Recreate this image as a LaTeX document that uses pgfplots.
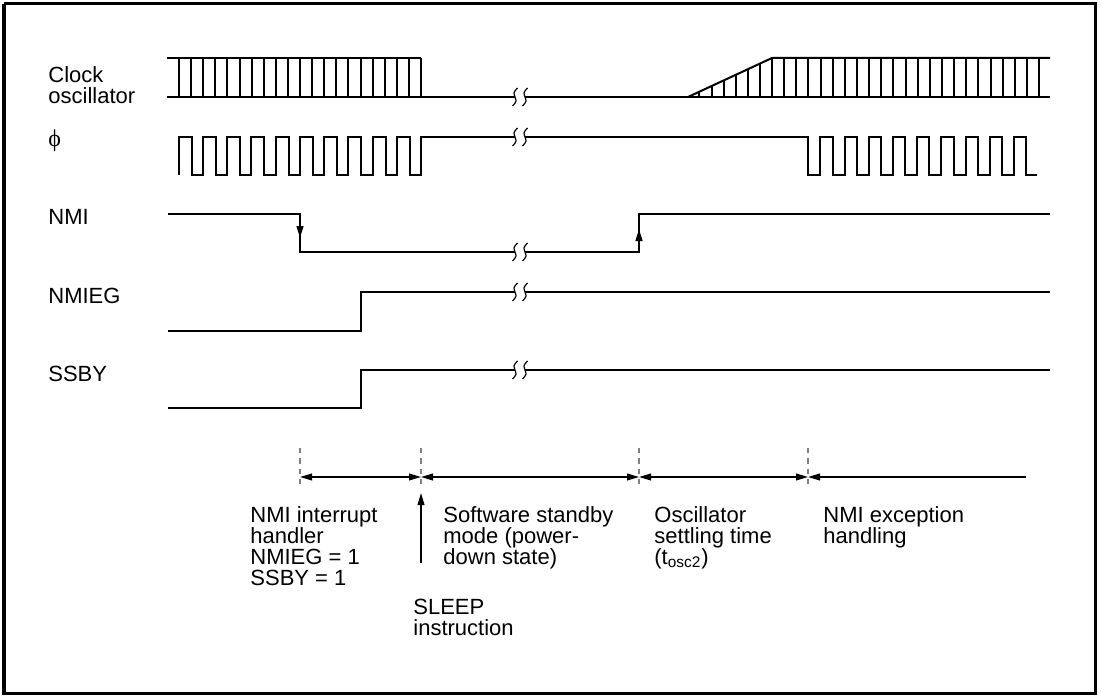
\documentclass[border=0pt]{standalone}
\usepackage{pgfplots}
\pgfplotsset{compat=1.18}
\usetikzlibrary{arrows.meta}
\usepackage{fontspec}
\setmainfont{Liberation Sans}
\newfontfamily\phifont{Liberation Serif}
\pgfplotsset{
  sig/.style={black, line width=1pt, line join=miter, mark=none},
  brk/.style={black, line width=0.6pt, smooth, mark=none},
  dash/.style={gray, line width=0.7pt, dash pattern=on 2.6pt off 2.6pt, mark=none},
  dim/.style={black, line width=0.7pt, mark=none},
}
\tikzset{lab/.style={anchor=base west, inner sep=0pt, font=\fontsize{11}{13}\selectfont}}
\newcommand{\tip}{Triangle[length=6pt,width=3.4pt]}
\begin{document}
\begin{tikzpicture}
\begin{axis}[hide axis, scale only axis, width=550.5pt, height=347.5pt,
  xmin=0, xmax=1101, ymin=0, ymax=695, y dir=reverse, clip=false,
  unbounded coords=jump]
% bounding box
\addplot[draw=none] coordinates {(0,0) (1101,695)};
% frame
\addplot[black, line width=1.5pt, line join=miter] coordinates {(4,4) (1095,4) (1095,693) (4,693) (4,4)};

% ---- Clock oscillator ----
\addplot[sig] coordinates {(167,58) (421,58)};
\addplot[sig] coordinates {(167,97) (515,97)};
\addplot[sig] coordinates {(525,97) (1050,97)};
\addplot[sig] coordinates {(688,97) (772,58) (1050,58)};
\addplot[sig] coordinates {
(179,58)(179,97)(179,nan)
(191.1,58)(191.1,97)(191.1,nan)
(203.2,58)(203.2,97)(203.2,nan)
(215.3,58)(215.3,97)(215.3,nan)
(227.4,58)(227.4,97)(227.4,nan)
(239.5,58)(239.5,97)(239.5,nan)
(251.6,58)(251.6,97)(251.6,nan)
(263.7,58)(263.7,97)(263.7,nan)
(275.8,58)(275.8,97)(275.8,nan)
(287.9,58)(287.9,97)(287.9,nan)
(300,58)(300,97)(300,nan)
(312.1,58)(312.1,97)(312.1,nan)
(324.2,58)(324.2,97)(324.2,nan)
(336.3,58)(336.3,97)(336.3,nan)
(348.4,58)(348.4,97)(348.4,nan)
(360.5,58)(360.5,97)(360.5,nan)
(372.6,58)(372.6,97)(372.6,nan)
(384.7,58)(384.7,97)(384.7,nan)
(396.8,58)(396.8,97)(396.8,nan)
(408.9,58)(408.9,97)(408.9,nan)
(421,58)(421,97)(421,nan)
(699.4,91.7)(699.4,97)(699.4,nan)
(711.5,86.1)(711.5,97)(711.5,nan)
(723.6,80.5)(723.6,97)(723.6,nan)
(735.7,74.9)(735.7,97)(735.7,nan)
(747.8,69.2)(747.8,97)(747.8,nan)
(759.9,63.6)(759.9,97)(759.9,nan)
(772,58)(772,97)(772,nan)
(784.1,58)(784.1,97)(784.1,nan)
(796.3,58)(796.3,97)(796.3,nan)
(808.4,58)(808.4,97)(808.4,nan)
(820.5,58)(820.5,97)(820.5,nan)
(832.7,58)(832.7,97)(832.7,nan)
(844.8,58)(844.8,97)(844.8,nan)
(857.0,58)(857.0,97)(857.0,nan)
(869.1,58)(869.1,97)(869.1,nan)
(881.2,58)(881.2,97)(881.2,nan)
(893.4,58)(893.4,97)(893.4,nan)
(905.5,58)(905.5,97)(905.5,nan)
(917.6,58)(917.6,97)(917.6,nan)
(929.8,58)(929.8,97)(929.8,nan)
(941.9,58)(941.9,97)(941.9,nan)
(954.1,58)(954.1,97)(954.1,nan)
(966.2,58)(966.2,97)(966.2,nan)
(978.3,58)(978.3,97)(978.3,nan)
(990.5,58)(990.5,97)(990.5,nan)
(1002.6,58)(1002.6,97)(1002.6,nan)
(1014.7,58)(1014.7,97)(1014.7,nan)
(1026.9,58)(1026.9,97)(1026.9,nan)
(1039,58)(1039,97)};
\addplot[brk] coordinates {(517.5,88)(514,93)(516,101)(512.5,106)};
\addplot[brk] coordinates {(527.5,88)(524,93)(526,101)(522.5,106)};

% ---- phi ----
\addplot[sig] coordinates {(178.5,175)(178.5,137)(191.5,137)(191.5,175)(202.75,175)(202.75,137)(215.75,137)(215.75,175)(227,175)(227,137)(240,137)(240,175)(251.25,175)(251.25,137)(264.25,137)(264.25,175)(275.5,175)(275.5,137)(288.5,137)(288.5,175)(299.75,175)(299.75,137)(312.75,137)(312.75,175)(324,175)(324,137)(337,137)(337,175)(348.25,175)(348.25,137)(361.25,137)(361.25,175)(372.5,175)(372.5,137)(385.5,137)(385.5,175)(396.75,175)(396.75,137)(409.75,137)(409.75,175)(421,175)(421,137)(515,137)};
\addplot[sig] coordinates {(525,137)(808.3,137)(808.3,175)(820.3,175)(820.3,137)(832.5,137)(832.5,175)(844.5,175)(844.5,137)(856.7,137)(856.7,175)(868.7,175)(868.7,137)(880.9,137)(880.9,175)(892.9,175)(892.9,137)(905.1,137)(905.1,175)(917.1,175)(917.1,137)(929.3,137)(929.3,175)(941.3,175)(941.3,137)(953.5,137)(953.5,175)(965.5,175)(965.5,137)(977.7,137)(977.7,175)(989.7,175)(989.7,137)(1001.9,137)(1001.9,175)(1013.9,175)(1013.9,137)(1026.1,137)(1026.1,175)(1037,175)};
\addplot[brk] coordinates {(517.5,128)(514,133)(516,141)(512.5,146)};
\addplot[brk] coordinates {(527.5,128)(524,133)(526,141)(522.5,146)};

% ---- NMI ----
\addplot[sig] coordinates {(168,214)(300,214)(300,252)(515,252)};
\addplot[sig] coordinates {(525,252)(639,252)(639,214)(1050,214)};
\addplot[sig, -{\tip}] coordinates {(300,214)(300,238)};
\addplot[sig, -{\tip}] coordinates {(639,252)(639,229)};
\addplot[brk] coordinates {(517.5,243)(514,248)(516,256)(512.5,261)};
\addplot[brk] coordinates {(527.5,243)(524,248)(526,256)(522.5,261)};

% ---- NMIEG ----
\addplot[sig] coordinates {(168,331)(361,331)(361,292)(515,292)};
\addplot[sig] coordinates {(525,292)(1050,292)};
\addplot[brk] coordinates {(517.5,283)(514,288)(516,296)(512.5,301)};
\addplot[brk] coordinates {(527.5,283)(524,288)(526,296)(522.5,301)};

% ---- SSBY ----
\addplot[sig] coordinates {(168,408)(361,408)(361,370)(515,370)};
\addplot[sig] coordinates {(525,370)(1050,370)};
\addplot[brk] coordinates {(517.5,361)(514,366)(516,374)(512.5,379)};
\addplot[brk] coordinates {(527.5,361)(524,366)(526,374)(522.5,379)};

% ---- dimension lines ----
\addplot[dash] coordinates {(300,448)(300,487)};
\addplot[dash] coordinates {(421,448)(421,487)};
\addplot[dash] coordinates {(639,448)(639,487)};
\addplot[dash] coordinates {(808,448)(808,487)};
\addplot[dim, {\tip}-{\tip}] coordinates {(300,477)(421,477)};
\addplot[dim, {\tip}-{\tip}] coordinates {(421,477)(639,477)};
\addplot[dim, {\tip}-{\tip}] coordinates {(639,477)(808,477)};
\addplot[dim, {\tip}-] coordinates {(808,477)(1026,477)};
\addplot[dim, -{\tip}] coordinates {(421,563)(421,493)};

% ---- labels ----
\node[lab] at (axis cs:48,83) {Clock};
\node[lab] at (axis cs:48,104) {oscillator};
\node[lab, font=\fontsize{12}{13}\phifont] at (axis cs:48,147) {ϕ};
\node[lab] at (axis cs:48,225) {NMI};
\node[lab] at (axis cs:48,303) {NMIEG};
\node[lab] at (axis cs:48,381) {SSBY};

\node[lab] at (axis cs:250,522) {NMI interrupt};
\node[lab] at (axis cs:250,543) {handler};
\node[lab] at (axis cs:250,564) {NMIEG = 1};
\node[lab] at (axis cs:250,585) {SSBY = 1};

\node[lab] at (axis cs:443,522) {Software standby};
\node[lab] at (axis cs:443,543) {mode (power-};
\node[lab] at (axis cs:443,564) {down state)};

\node[lab] at (axis cs:654,522) {Oscillator};
\node[lab] at (axis cs:654,543) {settling time};
\node[lab] at (axis cs:654,564) {(t\textsubscript{osc2})};

\node[lab] at (axis cs:823,522) {NMI exception};
\node[lab] at (axis cs:823,543) {handling};

\node[lab] at (axis cs:413,614) {SLEEP};
\node[lab] at (axis cs:413,635) {instruction};
\end{axis}
\end{tikzpicture}
\end{document}
